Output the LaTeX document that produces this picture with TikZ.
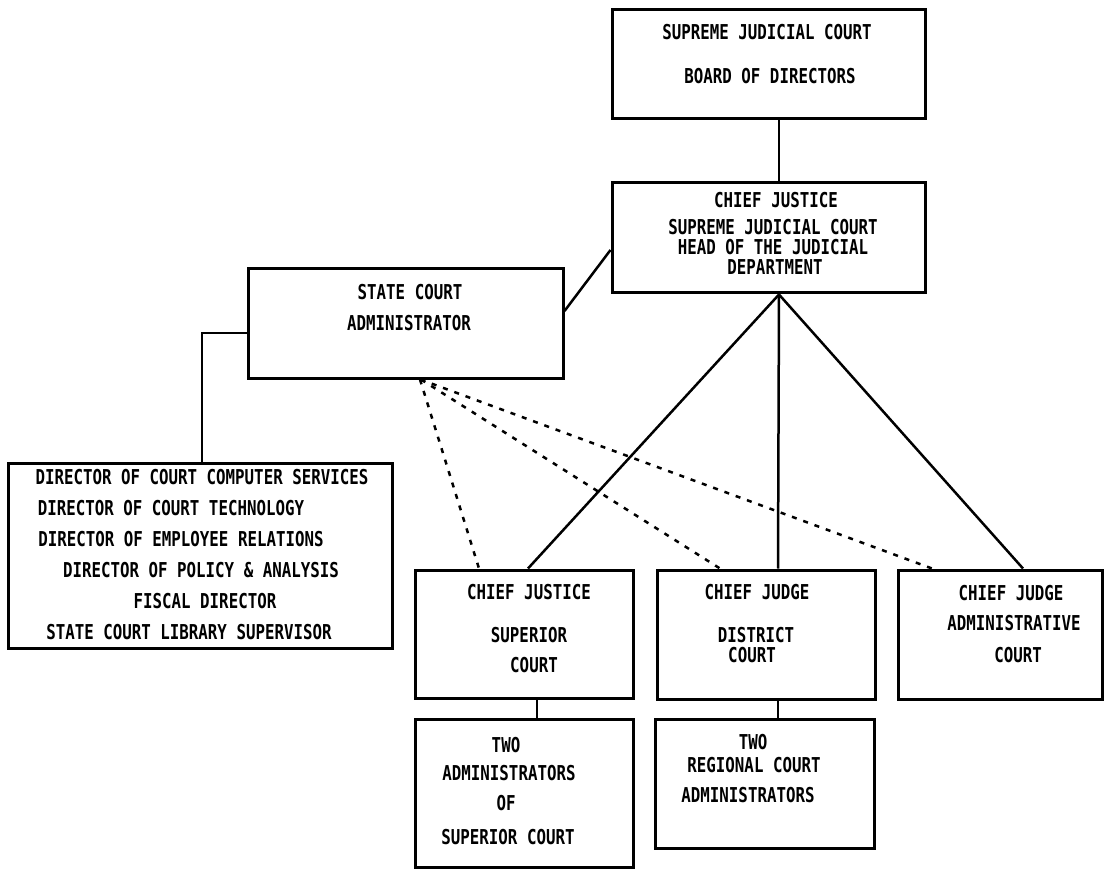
\documentclass[tikz,border=0pt]{standalone}
\usepackage{fontspec}
\newfontfamily\dmf{DejaVu Sans Mono}[FakeStretch=0.77]
\begin{document}
\begin{tikzpicture}[x=1pt,y=-1pt,
  box/.style={draw, line width=3pt, inner sep=0pt},
  txt/.style={inner sep=0pt, font=\dmf\bfseries\fontsize{20.5}{22}\selectfont},
  link/.style={line width=2.5pt},
  dline/.style={line width=2.5pt, dash pattern=on 5pt off 7pt}]
\fill[white] (0,0) rectangle (1109,869);
\useasboundingbox (0,0) rectangle (1109,869);
% boxes
\node[box, minimum width=313pt, minimum height=109pt] (top) at (768.5,64.5) {};
\node[box, minimum width=313pt, minimum height=110pt] (cj) at (768.5,238) {};
\node[box, minimum width=315pt, minimum height=109pt] (sca) at (405.5,323.5) {};
\node[box, minimum width=384pt, minimum height=185pt] (list) at (200,555.5) {};
\node[box, minimum width=218pt, minimum height=128pt] (sup) at (524,634) {};
\node[box, minimum width=218pt, minimum height=129pt] (dist) at (766,634.5) {};
\node[box, minimum width=204pt, minimum height=129pt] (adm) at (1000,634.5) {};
\node[box, minimum width=218pt, minimum height=148pt] (twoA) at (524,793) {};
\node[box, minimum width=219pt, minimum height=129pt] (twoR) at (764.5,783.5) {};
% texts
\node[txt] (t1) at (767,32) {SUPREME JUDICIAL COURT};
\node[txt] (t2) at (770,76) {BOARD OF DIRECTORS};
\node[txt] (t3) at (776,200) {CHIEF JUSTICE};
\node[txt] (t4) at (773,227) {SUPREME JUDICIAL COURT};
\node[txt] (t5) at (773,247) {HEAD OF THE JUDICIAL};
\node[txt] (t6) at (775,267) {DEPARTMENT};
\node[txt] (t7) at (410,292) {STATE COURT};
\node[txt] (t8) at (409,323) {ADMINISTRATOR};
\node[txt] (l1) at (202,477) {DIRECTOR OF COURT COMPUTER SERVICES};
\node[txt] (l2) at (171,508) {DIRECTOR OF COURT TECHNOLOGY};
\node[txt] (l3) at (181,539) {DIRECTOR OF EMPLOYEE RELATIONS};
\node[txt] (l4) at (201,570) {DIRECTOR OF POLICY \& ANALYSIS};
\node[txt] (l5) at (205,601) {FISCAL DIRECTOR};
\node[txt] (l6) at (189,632) {STATE COURT LIBRARY SUPERVISOR};
\node[txt] (s1) at (529,592) {CHIEF JUSTICE};
\node[txt] (s2) at (529,635) {SUPERIOR};
\node[txt] (s3) at (534,665) {COURT};
\node[txt] (d1) at (757,592) {CHIEF JUDGE};
\node[txt] (d2) at (756,635) {DISTRICT};
\node[txt] (d3) at (752,655) {COURT};
\node[txt] (a1) at (1011,593) {CHIEF JUDGE};
\node[txt] (a2) at (1014,623) {ADMINISTRATIVE};
\node[txt] (a3) at (1018,655) {COURT};
\node[txt] (r1) at (753,742) {TWO};
\node[txt] (r2) at (754,765) {REGIONAL COURT};
\node[txt] (r3) at (748,795) {ADMINISTRATORS};
\node[txt] (u1) at (506,745) {TWO};
\node[txt] (u2) at (509,773) {ADMINISTRATORS};
\node[txt] (u3) at (506,803) {OF};
\node[txt] (u4) at (508,837) {SUPERIOR COURT};
% solid connectors
\draw[link] ([xshift=10.5pt]top.south) -- ([xshift=10.5pt]cj.north);
\draw[link] ([yshift=-12pt]cj.west) -- ([yshift=12.5pt]sca.east);
\draw[link] ([yshift=-9.5pt]sca.west) -| ([xshift=2pt]list.north);
\draw[link] ([xshift=10.5pt]cj.south) -- ([xshift=4pt]sup.north);
\draw[link] ([xshift=10.5pt]cj.south) -- ([xshift=12pt]dist.north);
\draw[link] ([xshift=10.5pt]cj.south) -- ([xshift=23pt]adm.north);
\draw[link] ([xshift=13pt]sup.south) -- ([xshift=13pt]twoA.north);
\draw[link] ([xshift=12pt]dist.south) -- ([xshift=13.5pt]twoR.north);
% dashed connectors
\draw[dline] ([xshift=14.5pt]sca.south) -- ([xshift=-45pt]sup.north);
\draw[dline] ([xshift=15.5pt]sca.south) -- ([xshift=-46pt]dist.north);
\draw[dline] ([xshift=15pt]sca.south) -- ([xshift=-68pt]adm.north);
\end{tikzpicture}
\end{document}
